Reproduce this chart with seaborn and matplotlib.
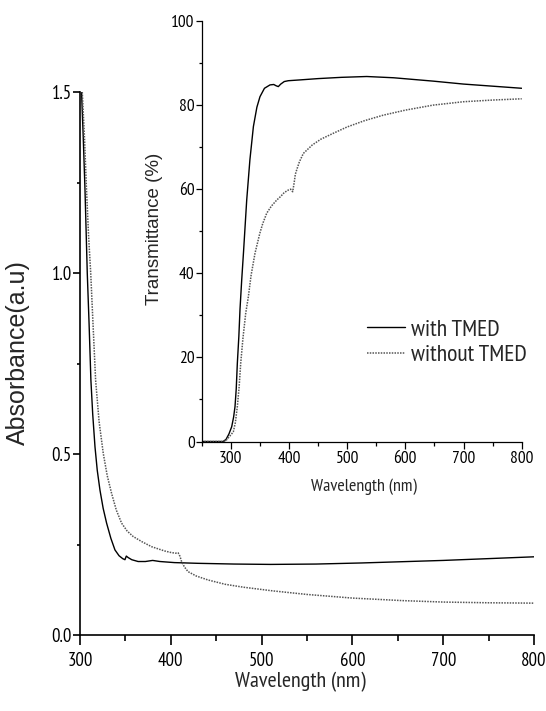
import matplotlib
matplotlib.use("Agg")
import matplotlib.pyplot as plt
import seaborn as sns
from matplotlib.ticker import MultipleLocator

# Absorbance spectra (main panel)
abs_with_nm = [301.7, 303.5, 305.5, 308, 310, 312, 314, 316.5, 319, 322, 325.5,
               329.3, 334, 338.5, 343, 347, 349.5, 351, 353, 357, 364, 372, 380,
               388, 404, 430, 470, 510, 560, 610, 655, 700, 750, 800]
abs_with = [1.50, 1.38, 1.23, 1.00, 0.86, 0.704, 0.61, 0.52, 0.455, 0.40, 0.35,
            0.309, 0.267, 0.235, 0.219, 0.211, 0.208, 0.218, 0.214, 0.208, 0.203,
            0.203, 0.206, 0.203, 0.200, 0.198, 0.196, 0.195, 0.196, 0.199, 0.2025,
            0.206, 0.211, 0.216]

abs_without_nm = [302.5, 305, 307, 309.5, 311.8, 314.5, 317.2, 321, 325.6, 330,
                  334.8, 340, 345.8, 352, 358.6, 368, 378.8, 386, 393.4, 400, 405,
                  408, 410, 412, 415, 419, 428, 441, 460, 480, 512, 550, 600, 655,
                  700, 750, 800]
abs_without = [1.50, 1.37, 1.24, 1.10, 1.00, 0.85, 0.704, 0.59, 0.502, 0.44,
               0.391, 0.345, 0.309, 0.287, 0.272, 0.258, 0.244, 0.238, 0.232,
               0.228, 0.226, 0.227, 0.218, 0.202, 0.188, 0.175, 0.163, 0.152,
               0.140, 0.132, 0.122, 0.112, 0.102, 0.095, 0.091, 0.089, 0.088]

# Transmittance spectra (inset)
tr_with_nm = [250, 270, 287, 292, 297, 301.7, 305, 307.4, 309.5, 311.4, 314, 316,
              318.9, 322, 327.5, 333, 339, 345, 350.3, 358, 367.5, 374, 378,
              381.8, 386, 392, 399, 420, 450, 490, 533.7, 580, 648, 700, 750, 800]
tr_with = [0, 0, 0, 0.5, 1.8, 3.5, 5.8, 8.3, 12.5, 18.6, 25, 31.5, 38.4, 45,
           57.4, 67, 74.9, 79.5, 82, 84, 84.8, 84.9, 84.6, 84.4, 85.0, 85.6,
           85.8, 86.0, 86.3, 86.6, 86.8, 86.5, 85.7, 85.0, 84.5, 84.0]

tr_without_nm = [250, 285, 290, 293, 298, 304.5, 308, 311.4, 314.5, 317.2, 321,
                 325.8, 330.3, 335, 341.8, 350, 355, 361.9, 370, 379, 386, 392,
                 399, 403, 406.5, 409, 411, 413.4, 418, 424.8, 440, 455, 476.3,
                 500, 530, 562, 600, 648, 700, 750, 800]
tr_without = [0, 0, 0.1, 0.4, 1.2, 2.3, 4.5, 8.3, 13, 18.6, 24.5, 30.5, 34.4,
              39.5, 44.8, 49.5, 51.8, 54.3, 56, 57.4, 58.3, 59.2, 59.8, 60.0,
              59.4, 61.5, 63.5, 64.6, 66.5, 68.5, 70.5, 71.9, 73.3, 74.8, 76.3,
              77.6, 78.8, 80, 80.8, 81.2, 81.5]

series_labels = ["with TMED", "without TMED"]

sns.set_style("ticks")
NARROW = ["PT Sans Narrow", "Roboto Condensed", "Liberation Sans", "DejaVu Sans"]
REGULAR = ["Liberation Sans", "DejaVu Sans"]
plt.rcParams["font.family"] = NARROW

W, H = 546, 711
fig = plt.figure(figsize=(W / 100, H / 100), dpi=100)

solid_kw = dict(color="black", linewidth=1.0, estimator=None)
dot_kw = dict(color="#555555", linewidth=1.1, linestyle=(0, (1, 0.8)), estimator=None)


def style_axes(ax, spine_w, fs, x_len, y_len, pad_x, pad_y):
    sns.despine(ax=ax, top=True, right=True)
    for s in ("left", "bottom"):
        ax.spines[s].set_linewidth(spine_w)
        ax.spines[s].set_color("black")
    ax.tick_params(which="both", direction="out", width=spine_w,
                   colors="black", labelsize=fs)
    ax.tick_params(axis="x", which="major", length=x_len[0], pad=pad_x)
    ax.tick_params(axis="x", which="minor", length=x_len[1])
    ax.tick_params(axis="y", which="major", length=y_len[0], pad=pad_y)
    ax.tick_params(axis="y", which="minor", length=y_len[1])
    ax.set_facecolor("none")


# main panel
ax = fig.add_axes([80 / W, 1 - 635 / H, 454 / W, 543 / H])
sns.lineplot(x=abs_with_nm, y=abs_with, ax=ax, **solid_kw)
sns.lineplot(x=abs_without_nm, y=abs_without, ax=ax, **dot_kw)
ax.set_xlim(300, 800)
ax.set_ylim(0, 1.5)
ax.xaxis.set_major_locator(MultipleLocator(100))
ax.xaxis.set_minor_locator(MultipleLocator(50))
ax.yaxis.set_major_locator(MultipleLocator(0.5))
ax.yaxis.set_minor_locator(MultipleLocator(0.25))
ax.yaxis.set_major_formatter(plt.FormatStrFormatter("%.1f"))
style_axes(ax, 1.2, 13.5, (7, 4.5), (5, 2.5), 5.5, 1)
ax.set_xlabel("Wavelength (nm)", fontsize=16)
ax.set_ylabel("Absorbance(a.u)", fontsize=18, family=REGULAR)
ax.xaxis.set_label_coords(0.486, -0.068)
ax.yaxis.set_label_coords(-0.110, 0.52)

# inset panel
ins = fig.add_axes([201.6 / W, 1 - 441.5 / H, 320.1 / W, 420.5 / H])
sns.lineplot(x=tr_with_nm, y=tr_with, ax=ins, label=series_labels[0], **solid_kw)
sns.lineplot(x=tr_without_nm, y=tr_without, ax=ins, label=series_labels[1], **dot_kw)
ins.set_xlim(250, 800)
ins.set_ylim(0, 100)
ins.xaxis.set_major_locator(MultipleLocator(100))
ins.xaxis.set_minor_locator(MultipleLocator(50))
ins.yaxis.set_major_locator(MultipleLocator(20))
ins.yaxis.set_minor_locator(MultipleLocator(10))
style_axes(ins, 0.9, 12.5, (5, 3), (4, 2.5), 1.5, 1)
ins.set_xlabel("Wavelength (nm)", fontsize=13)
ins.set_ylabel("Transmittance (%)", fontsize=13.5, family=REGULAR)
ins.xaxis.set_label_coords(0.507, -0.0885)
ins.yaxis.set_label_coords(-0.1206, 0.505)

handles, labels = ins.get_legend_handles_labels()
ins.get_legend().remove()
fig.legend(handles, labels, loc="center left",
           bbox_to_anchor=(367 / W, 1 - 342.5 / H), frameon=False,
           fontsize=17, handlelength=1.6, handletextpad=0.25,
           labelspacing=0.15, borderpad=0, borderaxespad=0)

fig.savefig("out.png", dpi=100, facecolor="white")
